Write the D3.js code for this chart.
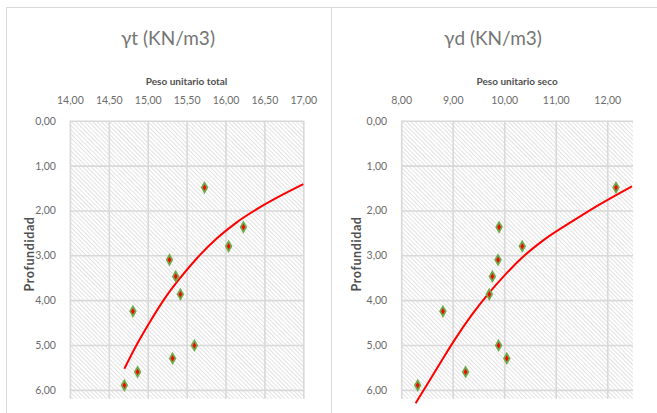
<!DOCTYPE html>
<html><head><meta charset="utf-8">
<script src="https://cdn.jsdelivr.net/npm/d3@7"></script>
<style>
html,body{margin:0;padding:0;background:#fff;}
svg{display:block;font-family:Lato,"Open Sans",sans-serif;}
</style></head>
<body>
<svg id="c" width="657" height="413"></svg>
<script>
// ---- data ----
const depth  = [1.49, 2.37, 2.80, 3.10, 3.47, 3.87, 4.25, 5.01, 5.30, 5.60, 5.90];
const gammaT = [15.73, 16.23, 16.04, 15.28, 15.36, 15.42, 14.81, 15.60, 15.32, 14.87, 14.70];
const gammaD = [12.17, 9.90, 10.35, 9.88, 9.77, 9.71, 8.81, 9.89, 10.05, 9.25, 8.32];

// trendline samples (x value, depth)
const trendTx = [14.70, 14.86, 15.03, 15.22, 15.42, 15.63, 15.89, 16.14, 16.44, 16.74, 17.00];
const trendTy = [5.53, 4.99, 4.48, 3.96, 3.50, 3.07, 2.62, 2.27, 1.93, 1.64, 1.41];
const trendDx = [8.28, 8.53, 8.79, 9.04, 9.37, 9.69, 10.02, 10.34, 10.79, 11.31, 11.83, 12.48];
const trendDy = [6.30, 5.83, 5.34, 4.88, 4.33, 3.86, 3.43, 3.06, 2.64, 2.25, 1.88, 1.46];

const xTicksT = [14, 14.5, 15, 15.5, 16, 16.5, 17];
const xTicksD = [8, 9, 10, 11, 12];
const yTicks  = [0, 1, 2, 3, 4, 5, 6];

const titles = ["γt (KN/m3)", "γd (KN/m3)"];
const xTitles = ["Peso unitario total", "Peso unitario seco"];
const yTitle = "Profundidad";

const fmt = v => d3.format(".2f")(v).replace(".", ",");

const svg = d3.select("#c");
const defs = svg.append("defs");
const pat = defs.append("pattern").attr("id","hatch").attr("patternUnits","userSpaceOnUse")
  .attr("width",3).attr("height",3).attr("patternTransform","rotate(-45)");
pat.append("rect").attr("width",3).attr("height",3).attr("fill","#ffffff");
pat.append("rect").attr("x",0).attr("y",0).attr("width",1).attr("height",3).attr("fill","#e2e2e2");

// panel frames
svg.append("rect").attr("x",6.5).attr("y",7.5).attr("width",325).attr("height",420)
  .attr("fill","none").attr("stroke","#d9d9d9");
svg.append("rect").attr("x",331.5).attr("y",7.5).attr("width",340).attr("height",420)
  .attr("fill","none").attr("stroke","#d9d9d9");

const panels = [
  {x0:69.9, x1:303.3, dom:[14,17], ticks:xTicksT, xs:gammaT, tx:trendTx, ty:trendTy, cx:168, ytx:34, title:titles[0], xt:xTitles[0]},
  {x0:401.2, x1:633, dom:[8,12.5], ticks:xTicksD, xs:gammaD, tx:trendDx, ty:trendDy, cx:493, ytx:361, title:titles[1], xt:xTitles[1]}
];
const yTop = 120.8, yBot = 398.8;

panels.forEach((p, pi) => {
  const g = svg.append("g");
  const x = d3.scaleLinear().domain(p.dom).range([p.x0, p.x1]);
  const y = d3.scaleLinear().domain([0, 6.2]).range([yTop, yBot]);

  g.append("rect").attr("x",p.x0).attr("y",yTop).attr("width",p.x1-p.x0).attr("height",yBot-yTop)
    .attr("fill","url(#hatch)");

  // gridlines via axes
  g.append("g").attr("transform",`translate(0,${yTop})`)
    .call(d3.axisTop(x).tickValues(p.ticks).tickSize(-(yBot-yTop)).tickFormat(""))
    .call(a=>{a.select(".domain").remove(); a.selectAll("line").attr("stroke","#d9d9d9").attr("stroke-width",1.6);});
  g.append("g").attr("transform",`translate(${p.x0},0)`)
    .call(d3.axisLeft(y).tickValues(yTicks).tickSize(-(p.x1-p.x0)).tickFormat(""))
    .call(a=>{a.select(".domain").remove(); a.selectAll("line").attr("stroke","#d9d9d9").attr("stroke-width",1.6);});

  // tick labels
  g.append("g").attr("transform",`translate(0,${yTop-15})`)
    .call(d3.axisTop(x).tickValues(p.ticks).tickSize(0).tickFormat(fmt))
    .call(a=>{a.select(".domain").remove(); a.selectAll("text").attr("fill","#6b6b6b").attr("font-size","10.5px").attr("font-family","Lato,sans-serif").attr("dy","0.1em");});
  g.append("g").attr("transform",`translate(${p.x0-11},0)`)
    .call(d3.axisLeft(y).tickValues(yTicks).tickSize(0).tickFormat(fmt))
    .call(a=>{a.select(".domain").remove(); a.selectAll("text").attr("fill","#6b6b6b").attr("font-size","10.5px").attr("font-family","Lato,sans-serif");});

  // titles
  g.append("text").attr("x",p.cx).attr("y",45).attr("text-anchor","middle")
    .attr("font-size","19px").attr("fill","#757575").text(p.title);
  g.append("text").attr("x",(p.x0+p.x1)/2).attr("y",85).attr("text-anchor","middle")
    .attr("font-size","10px").attr("font-weight","bold").attr("fill","#505050").text(p.xt);
  g.append("text").attr("transform",`translate(${p.ytx},254) rotate(-90)`).attr("text-anchor","middle")
    .attr("font-size","12.5px").attr("letter-spacing","0.6px").attr("font-weight","bold").attr("fill","#505050").text(yTitle);

  // trendline
  const tpts = p.tx.map((v,i)=>[v,p.ty[i]]);
  g.append("path").datum(tpts)
    .attr("d", d3.line().x(d=>x(d[0])).y(d=>y(d[1])).curve(d3.curveMonotoneX))
    .attr("fill","none").attr("stroke","#ff0000").attr("stroke-width",2);

  // markers
  const pts = p.xs.map((v,i)=>[v,depth[i]]);
  g.append("g").selectAll("path.o").data(pts).join("path")
    .attr("transform",d=>`translate(${x(d[0])},${y(d[1])})`)
    .attr("d", d3.symbol(d3.symbolDiamond, 50)())
    .attr("fill","#6fab4a");
  g.append("g").selectAll("path.i").data(pts).join("path")
    .attr("transform",d=>`translate(${x(d[0])},${y(d[1])})`)
    .attr("d", d3.symbol(d3.symbolDiamond, 11)())
    .attr("fill","#ff0000");
});
</script>
</body></html>
